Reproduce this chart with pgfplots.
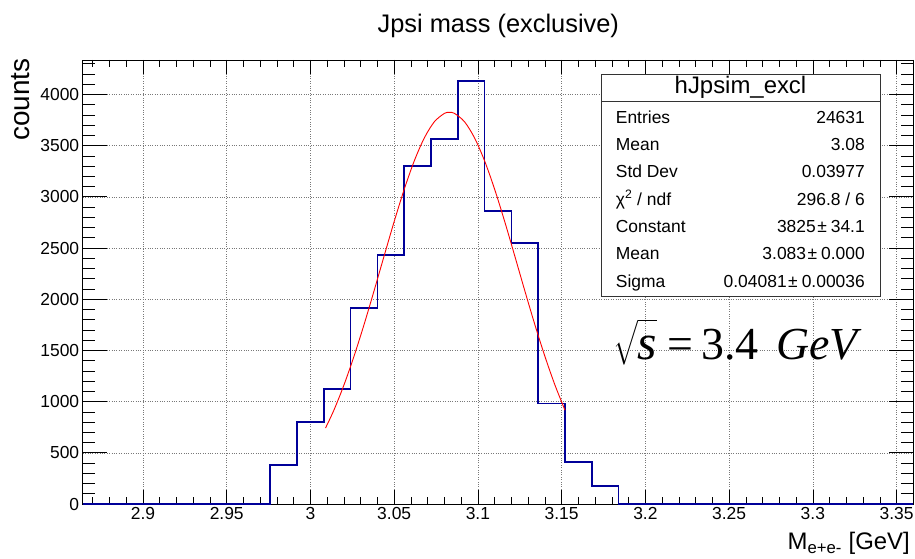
\documentclass[border=0pt]{standalone}
\usepackage{pgfplots}
\pgfplotsset{compat=1.18}
\usepackage{exscale}
\usepackage{fontspec}
\setmainfont{Liberation Sans}
\newfontfamily\timesfont{Liberation Serif}
\definecolor{histblue}{RGB}{0,0,153}
\definecolor{gridgray}{RGB}{120,120,120}
\begin{document}
\begin{tikzpicture}
\useasboundingbox (0,0) rectangle (915bp,559bp);
\begin{axis}[
  at={(82.7bp,55bp)}, anchor=south west,
  scale only axis, width=830.6bp, height=444bp,
  xmin=2.864, xmax=3.36, ymin=0, ymax=4336,
  xtick={2.9,2.95,3,3.05,3.1,3.15,3.2,3.25,3.3,3.35},
  xticklabels={2.9,2.95,3,3.05,3.1,3.15,3.2,3.25,3.3,3.35},
  minor xtick={2.87,2.88,2.89,2.91,2.92,2.93,2.94,2.96,2.97,2.98,2.99,3.01,3.02,3.03,3.04,3.06,3.07,3.08,3.09,3.11,3.12,3.13,3.14,3.16,3.17,3.18,3.19,3.21,3.22,3.23,3.24,3.26,3.27,3.28,3.29,3.31,3.32,3.33,3.34,3.36},
  ytick={0,500,1000,1500,2000,2500,3000,3500,4000},
  yticklabels={0,500,1000,1500,2000,2500,3000,3500,4000},
  minor ytick={100,200,300,400,600,700,800,900,1100,1200,1300,1400,1600,1700,1800,1900,2100,2200,2300,2400,2600,2700,2800,2900,3100,3200,3300,3400,3600,3700,3800,3900,4100,4200,4300},
  tick align=inside,
  major tick length=14bp, minor tick length=7bp,
  xtick style={black, line width=0.6bp},
  ytick style={black, line width=0.6bp, /pgfplots/major tick length=24bp, /pgfplots/minor tick length=12bp},
  grid=major,
  major grid style={gridgray, line width=0.5bp, dash pattern=on 0.8bp off 1.6bp},
  axis line style={black, line width=0.8bp},
  ticklabel style={font=\fontsize{17.5}{17.5}\selectfont},
  /pgf/number format/assume math mode=true,
  clip=false,
]
\addplot[const plot, histblue, line width=1.7bp] coordinates {
(2.864,0) (2.976,381) (2.992,804) (3.008,1123) (3.024,1917) (3.040,2432)
(3.056,3301) (3.072,3564) (3.088,4134) (3.104,2861) (3.120,2546)
(3.136,980) (3.152,407) (3.168,173) (3.184,0) (3.36,0)
};
\addplot[red, line width=0.9bp, smooth] coordinates {
(3.009,742) (3.014,916.1) (3.020,1161.9) (3.026,1442.3) (3.032,1751.9)
(3.038,2082.6) (3.044,2422.9) (3.050,2758.4) (3.056,3073.2) (3.062,3350.7)
(3.068,3575.1) (3.074,3733.1) (3.080,3814.7) (3.083,3825) (3.086,3814.7)
(3.092,3733.1) (3.098,3575.1) (3.104,3350.7) (3.110,3073.2) (3.116,2758.4)
(3.122,2422.9) (3.128,2082.6) (3.134,1751.9) (3.140,1442.3) (3.146,1161.9)
(3.152,916.1)
};
\end{axis}
% title and axis labels
\node[anchor=base, font=\fontsize{25.5}{25.5}\selectfont] at (498.3bp,526bp) {Jpsi mass (exclusive)};
\node[anchor=base east, rotate=90, font=\fontsize{28}{28}\selectfont, inner sep=0pt] at (29.3bp,500.7bp) {counts};
\node[anchor=base east, font=\fontsize{24}{24}\selectfont, inner sep=0pt] at (910bp,9.7bp) {M\textsubscript{e+e-} [GeV]};
% stats box
\draw[fill=white, draw=black!80, line width=0.8bp] (601bp,263bp) rectangle (880bp,484.7bp);
\draw[black!80, line width=0.8bp] (601bp,457.3bp) -- (880bp,457.3bp);
\node[anchor=base, inner sep=0pt, font=\fontsize{24}{24}\selectfont] at (740.5bp,465.7bp) {hJpsim\_excl};
\begin{scope}[every node/.style={inner sep=0pt, font=\fontsize{17.5}{17.5}\selectfont}]
\node[anchor=base west] at (615.7bp,435.7bp) {Entries};
\node[anchor=base east] at (865bp,435.7bp) {24631};
\node[anchor=base west] at (615.7bp,408.4bp) {Mean};
\node[anchor=base east] at (865bp,408.4bp) {3.08};
\node[anchor=base west] at (615.7bp,381.1bp) {Std Dev};
\node[anchor=base east] at (865bp,381.1bp) {0.03977};
\node[anchor=base west] at (615.7bp,353.8bp) {χ\textsuperscript{2} / ndf};
\node[anchor=base east] at (865bp,353.8bp) {296.8 / 6};
\node[anchor=base west] at (615.7bp,326.5bp) {Constant};
\node[anchor=base east] at (865bp,326.5bp) {3825\hspace{1.5bp}±\hspace{4bp}34.1};
\node[anchor=base west] at (615.7bp,299.2bp) {Mean};
\node[anchor=base east] at (865bp,299.2bp) {3.083\hspace{1.5bp}±\hspace{4bp}0.000};
\node[anchor=base west] at (615.7bp,271.9bp) {Sigma};
\node[anchor=base east] at (865bp,271.9bp) {0.04081\hspace{1.5bp}±\hspace{4bp}0.00036};
\end{scope}
% energy annotation
\node[anchor=base west, inner sep=0pt] at (613bp,199bp) {\timesfont\fontsize{46}{46}\selectfont$\sqrt{\rule{0pt}{33bp}\mbox{\fontsize{50}{50}\selectfont\itshape s}}$\hspace{10bp}=\hspace{8bp}3.4\hspace{18bp}{\itshape GeV}};
\end{tikzpicture}
\end{document}
